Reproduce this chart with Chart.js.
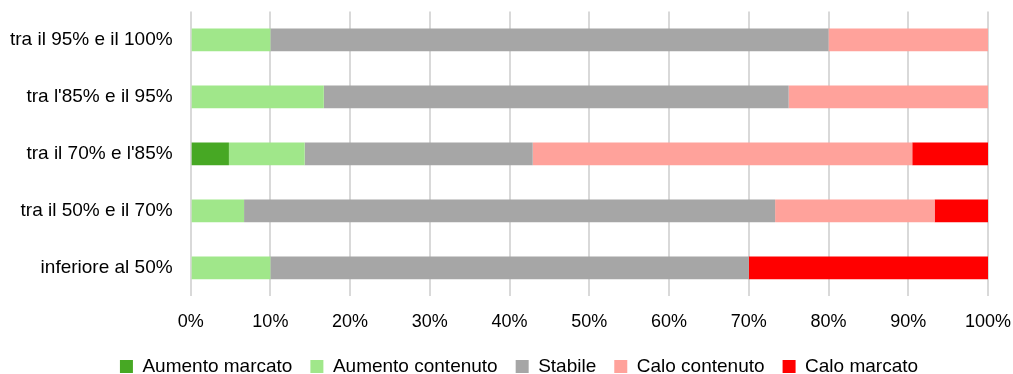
<!DOCTYPE html>
<html>
<head>
<meta charset="utf-8">
<script src="https://cdn.jsdelivr.net/npm/chart.js@4/dist/chart.umd.min.js"></script>
<style>
  html, body { margin: 0; padding: 0; background: #fff; }
  #wrap { width: 1013px; height: 374px; }
</style>
</head>
<body>
<div id="wrap"><canvas id="chart"></canvas></div>
<script>
// Categories (top to bottom)
const categories = ['tra il 95% e il 100%', "tra l'85% e il 95%", "tra il 70% e l'85%", 'tra il 50% e il 70%', 'inferiore al 50%'];

// Series values (percent of each row)
const aumentoMarcato = [0, 0, 4.8, 0, 0];
const aumentoContenuto = [10, 16.7, 9.5, 6.7, 10];
const stabile = [70, 58.3, 28.6, 66.6, 60];
const caloContenuto = [20, 25, 47.6, 20, 0];
const caloMarcato = [0, 0, 9.5, 6.7, 30];

const xTicks = [0, 10, 20, 30, 40, 50, 60, 70, 80, 90, 100];

const family = "'Liberation Sans', Arial, sans-serif";
const labelFont = { family, size: 19 };
const tickFont = { family, size: 18 };

const series = [
    { label: 'Aumento marcato', data: aumentoMarcato, color: '#47a824' },
    { label: 'Aumento contenuto', data: aumentoContenuto, color: '#a0e78a' },
    { label: 'Stabile', data: stabile, color: '#a6a6a6' },
    { label: 'Calo contenuto', data: caloContenuto, color: '#ffa29b' },
    { label: 'Calo marcato', data: caloMarcato, color: '#ff0000' }
];

// keep the legend row short in height while using wide spacing between items
const compactLegend = {
    id: 'compactLegend',
    beforeLayout(chart) {
        const lg = chart.legend;
        if (!lg || lg._compact) return;
        const fit = lg.fit;
        lg.fit = function () {
            fit.call(this);
            this.height = 41;
        };
        lg._compact = true;
    },
    afterLayout(chart) {
        // nudge legend row right and down, like the original
        const lg = chart.legend;
        lg.left += 20;
        lg.right += 20;
        lg.top += 6;
        lg.bottom += 6;
    }
};

new Chart(document.getElementById('chart'), {
    type: 'bar',
    data: {
        labels: categories,
        datasets: series.map(s => ({
            label: s.label,
            data: s.data,
            backgroundColor: s.color,
            borderWidth: 0,
            barPercentage: 0.8,
            categoryPercentage: 0.5
        }))
    },
    options: {
        indexAxis: 'y',
        responsive: true,
        maintainAspectRatio: false,
        animation: false,
        layout: { padding: { top: 11, right: 25, left: 10, bottom: 0 } },
        plugins: {
            tooltip: { enabled: false },
            legend: {
                position: 'bottom',
                labels: { font: labelFont, color: '#000', boxWidth: 13, boxHeight: 13, padding: 18 }
            }
        },
        scales: {
            x: {
                stacked: true,
                min: 0,
                max: 100,
                afterBuildTicks: axis => { axis.ticks = xTicks.map(v => ({ value: v })); },
                grid: { color: '#d9d9d9', lineWidth: 2, drawTicks: true, tickLength: 15, tickColor: 'rgba(0,0,0,0)' },
                border: { display: false },
                ticks: { font: tickFont, color: '#000', padding: 0, callback: v => v + '%' }
            },
            y: {
                stacked: true,
                grid: { display: false, drawTicks: true, tickLength: 18 },
                border: { display: false },
                ticks: { font: labelFont, color: '#000', padding: 0 }
            }
        }
    },
    plugins: [compactLegend]
});
</script>
</body>
</html>
